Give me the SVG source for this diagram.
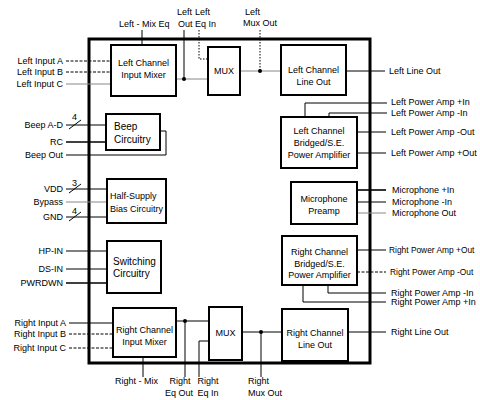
<svg xmlns="http://www.w3.org/2000/svg" width="480" height="400" viewBox="0 0 480 400">
<style>
text{font-family:"Liberation Sans",Arial,sans-serif;font-size:9px;fill:#000}
.big{font-size:10px}
.sm{font-size:8.4px}
.c{text-anchor:middle}
.e{text-anchor:end}
.box{fill:#fff;stroke:#000;stroke-width:2}
.ln{fill:none;stroke:#000;stroke-width:1}
.g{stroke:#888}
.th{stroke-width:1.6}
.da{stroke-dasharray:3,1.5}
.do{stroke-dasharray:1.5,1.5}
.dot{fill:#000}
</style>
<rect x="89" y="39" width="281" height="324" fill="none" stroke="#000" stroke-width="3"/>
<g id="connectors">
<line class="ln da" x1="66" y1="61" x2="111" y2="61"/>
<line class="ln da" x1="66" y1="72" x2="111" y2="72"/>
<line class="ln g" x1="66" y1="84" x2="111" y2="84"/>
<line class="ln" x1="142" y1="30" x2="142" y2="45"/>
<line class="ln g" x1="176" y1="79" x2="208" y2="79"/>
<line class="ln" x1="184" y1="30" x2="184" y2="79"/>
<polyline class="ln do" points="199,30 199,59 208,59"/>
<line class="ln g" x1="240" y1="71" x2="281" y2="71"/>
<line class="ln do" x1="260" y1="30" x2="260" y2="71"/>
<line class="ln" x1="346" y1="71" x2="385" y2="71"/>
<line class="ln" x1="66" y1="125" x2="106" y2="125"/>
<line class="ln th" x1="66" y1="142" x2="106" y2="142"/>
<polyline class="ln" points="66,155 166,155 166,131 160,131"/>
<line class="ln" x1="66" y1="189" x2="107" y2="189"/>
<line class="ln g" x1="66" y1="202" x2="107" y2="202"/>
<line class="ln" x1="66" y1="217" x2="107" y2="217"/>
<line class="ln" x1="66" y1="251" x2="107" y2="251"/>
<line class="ln" x1="66" y1="269" x2="107" y2="269"/>
<line class="ln th" x1="66" y1="283" x2="107" y2="283"/>
<line class="ln" x1="69" y1="129" x2="81" y2="120"/>
<line class="ln" x1="69" y1="193" x2="81" y2="184"/>
<line class="ln" x1="69" y1="221" x2="81" y2="212"/>
<polyline class="ln" points="305,117 305,103 387,103"/>
<polyline class="ln" points="329,117 329,113 387,113"/>
<line class="ln" x1="357" y1="132" x2="386" y2="132"/>
<line class="ln" x1="357" y1="153" x2="386" y2="153"/>
<line class="ln th" x1="357" y1="190" x2="386" y2="190"/>
<line class="ln" x1="357" y1="202" x2="386" y2="202"/>
<line class="ln g" x1="357" y1="213" x2="386" y2="213"/>
<line class="ln" x1="357" y1="250" x2="386" y2="250"/>
<line class="ln da" x1="357" y1="272" x2="386" y2="272"/>
<polyline class="ln" points="328,285 328,293 386,293"/>
<polyline class="ln" points="303,285 303,302 386,302"/>
<line class="ln" x1="69" y1="323" x2="113" y2="323"/>
<line class="ln da" x1="69" y1="334" x2="113" y2="334"/>
<line class="ln da" x1="69" y1="348" x2="113" y2="348"/>
<line class="ln" x1="143" y1="357" x2="143" y2="377"/>
<line class="ln" x1="176" y1="321" x2="209" y2="321"/>
<line class="ln" x1="185" y1="321" x2="185" y2="377"/>
<polyline class="ln" points="199,377 199,341 209,341"/>
<line class="ln" x1="242" y1="332" x2="282" y2="332"/>
<line class="ln" x1="261" y1="332" x2="261" y2="377"/>
<line class="ln" x1="348" y1="332" x2="386" y2="332"/>
<circle class="dot" cx="184" cy="79" r="2"/>
<circle class="dot" cx="260" cy="71" r="2"/>
<circle class="dot" cx="185" cy="321" r="2"/>
<circle class="dot" cx="261" cy="332" r="2"/>
</g>
<g id="left-input-mixer">
<rect class="box" x="111" y="45" width="65" height="51"/>
<text class="c" x="143.5" y="66">Left Channel</text>
<text class="c" x="143.5" y="78">Input Mixer</text>
</g>
<g id="left-mux">
<rect class="box" x="208" y="47" width="32" height="48"/>
<text class="c" x="224" y="74">MUX</text>
</g>
<g id="left-line-out">
<rect class="box" x="281" y="45" width="65" height="50"/>
<text class="c" x="313.5" y="73">Left Channel</text>
<text class="c" x="313.5" y="85">Line Out</text>
</g>
<g id="beep">
<rect class="box" x="106" y="114" width="54" height="36"/>
<text class="big" x="114" y="130">Beep</text>
<text class="big" x="114" y="143">Circuitry</text>
</g>
<g id="half-supply">
<rect class="box" x="107" y="179" width="59" height="44"/>
<text x="110" y="199">Half-Supply</text>
<text x="110" y="212">Bias Circuitry</text>
</g>
<g id="switching">
<rect class="box" x="107" y="241" width="54" height="52"/>
<text class="big" x="113" y="265">Switching</text>
<text class="big" x="113" y="277">Circuitry</text>
</g>
<g id="left-power-amp">
<rect class="box" x="281" y="117" width="76" height="51"/>
<text class="c" x="319" y="134">Left Channel</text>
<text class="c" x="319" y="146">Bridged/S.E.</text>
<text class="c" x="319" y="158">Power Amplifier</text>
</g>
<g id="mic-preamp">
<rect class="box" x="291" y="182" width="66" height="42"/>
<text class="c" x="324" y="202">Microphone</text>
<text class="c" x="324" y="214">Preamp</text>
</g>
<g id="right-power-amp">
<rect class="box" x="282" y="236" width="75" height="49"/>
<text class="c" x="319.5" y="255">Right Channel</text>
<text class="c" x="319.5" y="267">Bridged/S.E.</text>
<text class="c" x="319.5" y="278">Power Amplifier</text>
</g>
<g id="right-input-mixer">
<rect class="box" x="113" y="308" width="63" height="49"/>
<text class="c" x="144.5" y="333">Right Channel</text>
<text class="c" x="144.5" y="345">Input Mixer</text>
</g>
<g id="right-mux">
<rect class="box" x="209" y="307" width="33" height="53"/>
<text class="c" x="225.5" y="336">MUX</text>
</g>
<g id="right-line-out">
<rect class="box" x="282" y="309" width="66" height="52"/>
<text class="c" x="315" y="336">Right Channel</text>
<text class="c" x="315" y="348">Line Out</text>
</g>
<g id="labels">
<text x="119" y="27">Left - Mix Eq</text>
<text x="177" y="15">Left</text>
<text x="178" y="27">Out</text>
<text x="195" y="15">Left</text>
<text x="195" y="27">Eq In</text>
<text x="245" y="15">Left</text>
<text x="243" y="26">Mux Out</text>
<text class="e" x="63" y="64">Left  Input A</text>
<text class="e" x="63" y="75">Left  Input B</text>
<text class="e" x="63" y="87">Left  Input C</text>
<text class="e" x="63" y="128">Beep  A-D</text>
<text x="72" y="120">4</text>
<text class="e" x="63" y="145">RC</text>
<text class="e" x="63" y="158">Beep Out</text>
<text class="e" x="63" y="192">VDD</text>
<text x="72" y="186">3</text>
<text class="e" x="63" y="205">Bypass</text>
<text class="e" x="63" y="220">GND</text>
<text x="72" y="214">4</text>
<text class="e" x="63" y="254">HP-IN</text>
<text class="e" x="63" y="272">DS-IN</text>
<text class="e" x="63" y="286">PWRDWN</text>
<text class="e" x="66" y="326">Right  Input A</text>
<text class="e" x="66" y="337">Right  Input B</text>
<text class="e" x="66" y="351">Right  Input C</text>
<text x="115" y="384">Right - Mix</text>
<text class="c" x="180" y="384">Right</text>
<text class="c" x="179" y="396">Eq Out</text>
<text class="c" x="208" y="384">Right</text>
<text class="c" x="208" y="396">Eq In</text>
<text x="248" y="384">Right</text>
<text x="248" y="396">Mux Out</text>
<text x="389" y="74">Left Line Out</text>
<text x="391" y="105">Left Power Amp +In</text>
<text x="391" y="116">Left Power Amp -In</text>
<text x="391" y="135">Left Power Amp -Out</text>
<text x="391" y="156">Left Power Amp +Out</text>
<text x="392" y="193">Microphone +In</text>
<text x="392" y="205">Microphone -In</text>
<text x="392" y="216">Microphone Out</text>
<text class="sm" x="389" y="253">Right Power Amp +Out</text>
<text class="sm" x="390" y="275">Right Power Amp -Out</text>
<text x="391" y="296">Right Power Amp -In</text>
<text x="391" y="305">Right Power Amp +In</text>
<text x="391" y="335">Right Line Out</text>
</g>
</svg>
